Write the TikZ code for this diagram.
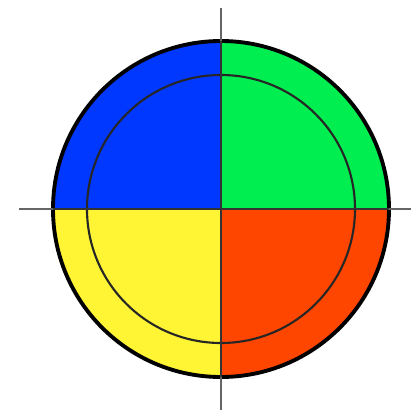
\documentclass[tikz,border=0pt]{standalone}
\definecolor{quadblue}{RGB}{0,56,255}
\definecolor{quadgreen}{RGB}{0,238,80}
\definecolor{quadyellow}{RGB}{255,245,52}
\definecolor{quadred}{RGB}{255,70,0}
\begin{document}
\begin{tikzpicture}[x = 0.05cm, y = 0.05cm]
\useasboundingbox (-221,-202) rectangle (190,209);
\foreach \a/\c in {0/quadgreen,90/quadblue,180/quadyellow,270/quadred}{
\fill [\c] (0,0) -- (\a:168) arc (\a:\a+90:168) -- cycle;
}
\draw [line width = 3pt, black!85] (0,0) circle (134);
\draw [line width = 5.5pt] (0,0) circle (168);
\draw [gray!80!black, line width = 2pt] (0,201) -- (0,-201);
\draw [gray!80!black, line width = 2pt] (-202,0) -- (190,0);
\draw [black!80, line width = 2pt] (0,168) -- (0,-168);
\draw [black!80, line width = 2pt] (-168,0) -- (168,0);
\end{tikzpicture}
\end{document}
